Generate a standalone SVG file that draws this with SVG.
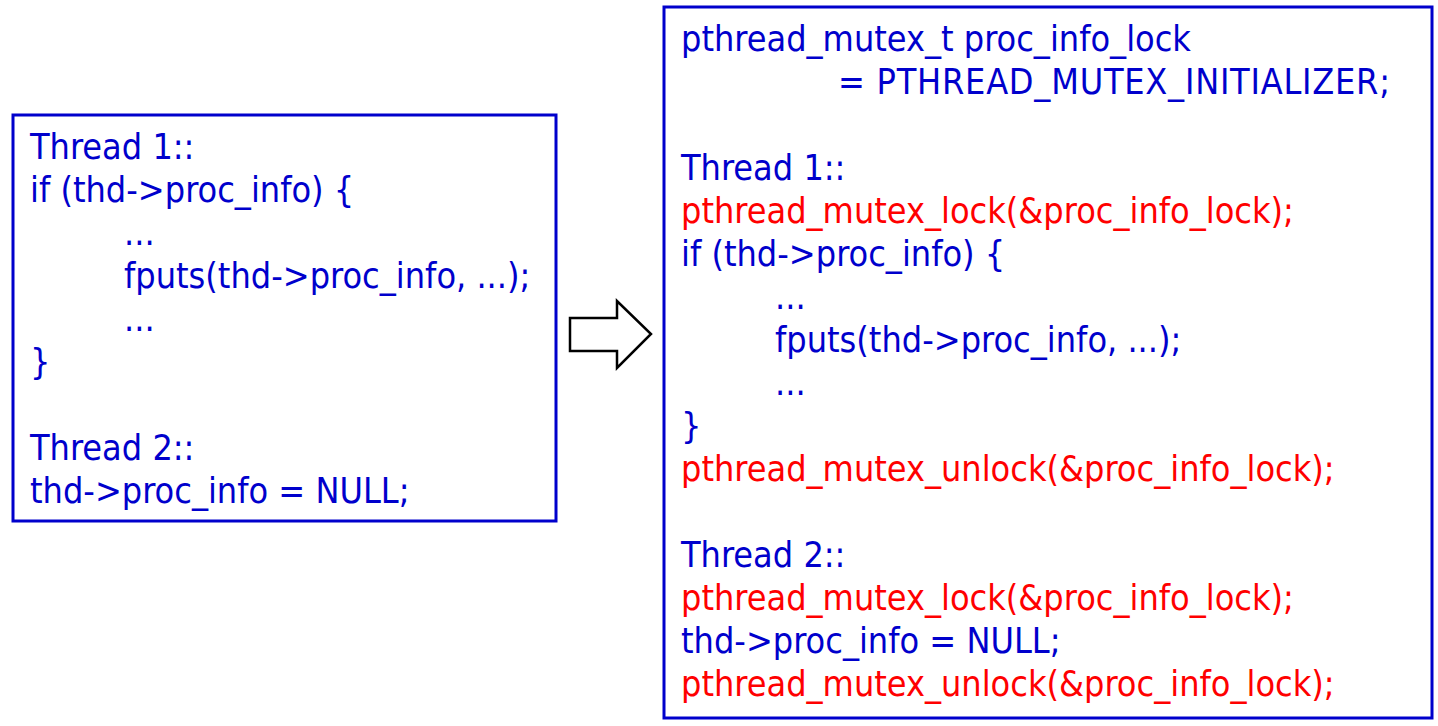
<svg xmlns="http://www.w3.org/2000/svg" width="1438" height="726" viewBox="0 0 1438 726">
<style>
.box{fill:#fff;stroke:#0000cc;stroke-width:3}
.t{font-family:"DejaVu Sans Condensed","DejaVu Sans",sans-serif;font-stretch:condensed;font-size:35.7px;fill:#0000cc}
.r{fill:#ff0000}
.arrow{fill:#fff;stroke:#000;stroke-width:2.5;stroke-linejoin:miter}
</style>
<rect width="1438" height="726" fill="#fff"/>
<g id="left-box">
<rect class="box" x="13" y="115" width="543" height="406"/>
<text class="t" x="30" y="159">Thread 1::</text>
<text class="t" x="30" y="202">if (thd-&gt;proc_info) {</text>
<text class="t" x="124" y="245">...</text>
<text class="t" x="124" y="288">fputs(thd-&gt;proc_info, ...);</text>
<text class="t" x="124" y="331">...</text>
<text class="t" x="30" y="374">}</text>
<text class="t" x="30" y="460">Thread 2::</text>
<text class="t" x="30" y="503">thd-&gt;proc_info = NULL;</text>
</g>
<g id="right-box">
<rect class="box" x="664" y="7" width="768" height="711"/>
<text class="t" x="681" y="51">pthread_mutex_t proc_info_lock</text>
<text class="t" x="838" y="94" textLength="552" lengthAdjust="spacing">= PTHREAD_MUTEX_INITIALIZER;</text>
<text class="t" x="681" y="180">Thread 1::</text>
<text class="t r" x="681" y="223">pthread_mutex_lock(&amp;proc_info_lock);</text>
<text class="t" x="681" y="266">if (thd-&gt;proc_info) {</text>
<text class="t" x="775" y="309">...</text>
<text class="t" x="775" y="352">fputs(thd-&gt;proc_info, ...);</text>
<text class="t" x="775" y="395">...</text>
<text class="t" x="681" y="438">}</text>
<text class="t r" x="681" y="481">pthread_mutex_unlock(&amp;proc_info_lock);</text>
<text class="t" x="681" y="567">Thread 2::</text>
<text class="t r" x="681" y="610">pthread_mutex_lock(&amp;proc_info_lock);</text>
<text class="t" x="681" y="653">thd-&gt;proc_info = NULL;</text>
<text class="t r" x="681" y="696">pthread_mutex_unlock(&amp;proc_info_lock);</text>
</g>
<g id="connectors">
<polygon class="arrow" points="570,318 617,318 617,301 651,334 617,368 617,351 570,351"/>
</g>
</svg>
